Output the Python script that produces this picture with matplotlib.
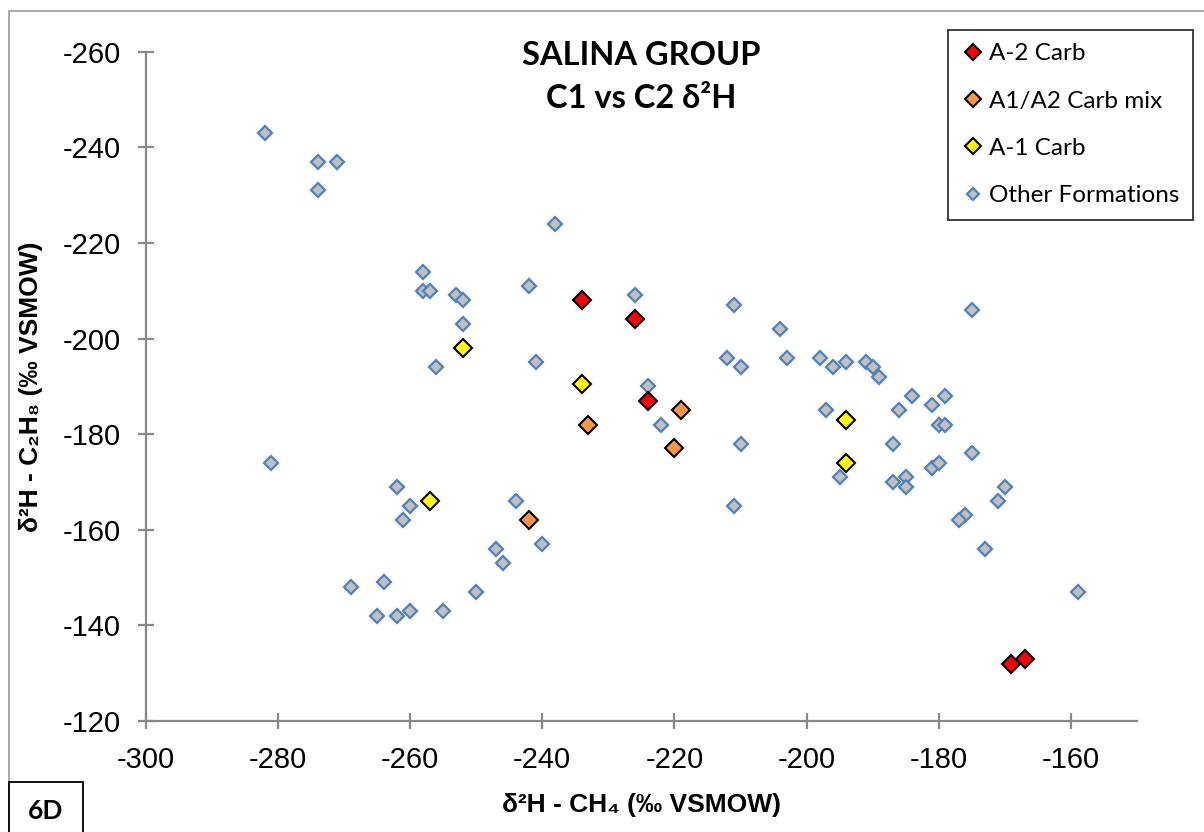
"""
Salina Group: C1 vs C2 deuterium isotope cross-plot (figure 6D).
"""

import matplotlib.pyplot as plt
from matplotlib.patches import Rectangle

# %% Data
a2_ch4 = [-234, -226, -224, -169, -167]
a2_c2 = [-208, -204, -187, -132, -133]

mix_ch4 = [-242, -233, -219, -220]
mix_c2 = [-162, -182, -185, -177]

a1_ch4 = [-252, -257, -234, -194, -194]
a1_c2 = [-198, -166, -190.5, -183, -174]

other_ch4 = [-282, -274, -271, -274, -238, -258, -258, -257, -253, -252,
             -252, -256, -242, -241, -281, -262, -260, -261, -244, -240,
             -247, -246, -250, -255, -260, -262, -265, -269, -264, -226,
             -211, -204, -212, -210, -203, -198, -196, -194, -191, -190,
             -189, -224, -222, -210, -211, -197, -195, -184, -186, -187,
             -187, -185, -185, -181, -181, -175, -179, -180, -179, -175,
             -180, -170, -171, -176, -177, -173, -159]
other_c2 = [-243, -237, -237, -231, -224, -214, -210, -210, -209, -208,
            -203, -194, -211, -195, -174, -169, -165, -162, -166, -157,
            -156, -153, -147, -143, -143, -142, -142, -148, -149, -209,
            -207, -202, -196, -194, -196, -196, -194, -195, -195, -194,
            -192, -190, -182, -178, -165, -185, -171, -188, -185, -178,
            -170, -171, -169, -186, -173, -206, -188, -182, -182, -176,
            -174, -169, -166, -163, -162, -156, -147]

series_labels = ["A-2 Carb", "A1/A2 Carb mix", "A-1 Carb", "Other Formations"]
x_ticks = [-300, -280, -260, -240, -220, -200, -180, -160]
y_ticks = [-260, -240, -220, -200, -180, -160, -140, -120]

# %% Figure
plt.rcParams["axes.unicode_minus"] = False
narrow = ["Liberation Sans Narrow", "Liberation Sans", "DejaVu Sans"]
soft = ["Lato", "DejaVu Sans"]
grey = "#898989"

fig = plt.figure(figsize=(12.04, 8.32), dpi=100)
ax = fig.add_axes([0.121, 0.1334, 0.8234, 0.8045])

h_other, = ax.plot(other_ch4, other_c2, ls="none", marker="D", ms=7.2,
                   mfc="#c0c0c0", mec="#4f81bd", mew=1.6, zorder=3)
h_a2, = ax.plot(a2_ch4, a2_c2, ls="none", marker="D", ms=9.2,
                mfc="#ff0000", mec="black", mew=1.5, zorder=4)
h_mix, = ax.plot(mix_ch4, mix_c2, ls="none", marker="D", ms=9.2,
                 mfc="#f79646", mec="black", mew=1.5, zorder=4)
h_a1, = ax.plot(a1_ch4, a1_c2, ls="none", marker="D", ms=9.2,
                mfc="#ffff00", mec="black", mew=1.5, zorder=4)

ax.set_xlim(-300, -150)
ax.set_ylim(-120, -260)  # inverted, as in the original
ax.set_xticks(x_ticks)
ax.set_yticks(y_ticks)

for side in ["top", "right"]:
    ax.spines[side].set_visible(False)
for side in ["left", "bottom"]:
    ax.spines[side].set_color(grey)
    ax.spines[side].set_linewidth(1.6)
ax.tick_params(direction="inout", length=11.5, width=1.6, color=grey,
               pad=12, labelsize=21)
for lab in ax.get_xticklabels() + ax.get_yticklabels():
    lab.set_family(narrow)

ax.set_xlabel("δ²H - CH₄ (‰ VSMOW)", fontsize=19, fontweight="bold",
              family=narrow, labelpad=14)
ax.set_ylabel("δ²H - C₂H₈ (‰ VSMOW)", fontsize=19, fontweight="bold",
              family=narrow, labelpad=14)

ax.text(0.5, 1.016, "SALINA GROUP\nC1 vs C2 δ²H", transform=ax.transAxes,
        ha="center", va="top", fontsize=23.5, fontweight="bold",
        family=soft, linespacing=1.6)

leg = ax.legend([h_a2, h_mix, h_a1, h_other], series_labels,
                loc="upper right", bbox_to_anchor=(1193 / 1204, 1 - 30 / 832),
                bbox_transform=fig.transFigure, borderaxespad=0,
                prop={"family": soft, "size": 17.5}, frameon=True,
                fancybox=False, labelspacing=1.08, handletextpad=0.15,
                handlelength=1.0, borderpad=0.55, markerscale=0.9)
leg.get_frame().set_edgecolor("black")
leg.get_frame().set_linewidth(1.3)

# chart area border and panel tag
fig.patches.append(Rectangle((9 / 1204, -0.1), 1.2, 1.1 - 11 / 832,
                             transform=fig.transFigure, fill=False,
                             edgecolor="#a0a0a0", linewidth=1.3))
fig.patches.append(Rectangle((9 / 1204, -0.05), 74 / 1204, 0.05 + 50 / 832,
                             transform=fig.transFigure, fill=True,
                             facecolor="white", edgecolor="black",
                             linewidth=1.3))
fig.text(46 / 1204, 1 - 811 / 832, "6D", ha="center", va="center",
         fontsize=19, fontweight="bold", family=soft)

plt.savefig("out.png", dpi=100)
